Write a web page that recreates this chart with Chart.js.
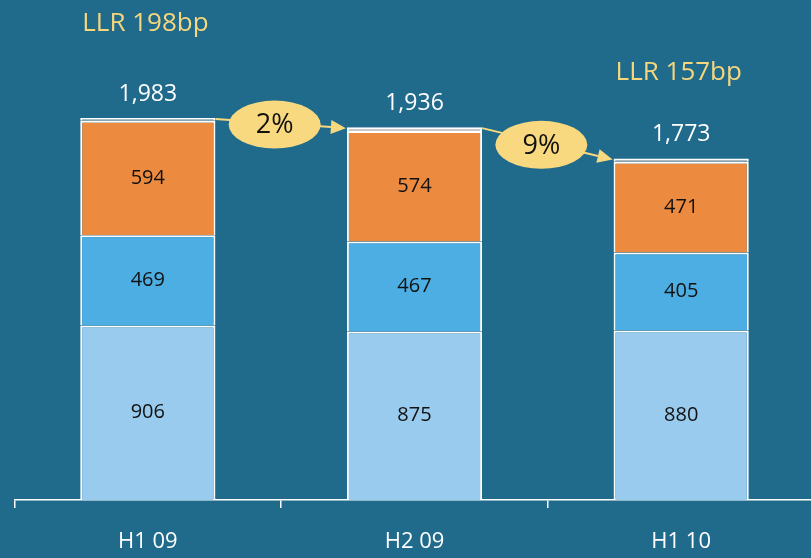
<!DOCTYPE html>
<html lang="en">
<head>
    <meta charset="UTF-8">
    <title>LLR chart</title>
    <script src="https://cdn.jsdelivr.net/npm/chart.js"></script>
    <style>
        html, body { margin: 0; padding: 0; overflow: hidden; background: #206a8c; }
        #wrap { width: 816px; height: 558px; }
    </style>
</head>
<body>
    <div id="wrap">
        <canvas id="graph"></canvas>
    </div>
</body>
<script>
    // data
    const categories = ['H1 09', 'H2 09', 'H1 10'];
    const baseValues = [906, 875, 880];
    const midValues = [469, 467, 405];
    const topValues = [594, 574, 471];
    const otherValues = [14, 20, 17];
    const totals = [1983, 1936, 1773];
    const changes = ['2%', '9%'];
    const llrNotes = [
        { text: 'LLR 198bp', index: 0, dy: -94 },
        { text: 'LLR 157bp', index: 2, dy: -86 }
    ];

    const fmt = n => n.toLocaleString('en-US');

    // numbers in the segments + totals above bars
    const labelsPlugin = {
        id: 'labels',
        afterDatasetsDraw(chart) {
            const ctx = chart.ctx;
            ctx.save();
            ctx.textAlign = 'center';
            ctx.textBaseline = 'middle';
            ctx.font = '20px "Open Sans"';
            ctx.fillStyle = '#111';
            for (let d = 0; d < 3; d++) {
                const meta = chart.getDatasetMeta(d);
                meta.data.forEach((bar, i) => {
                    const y = (bar.y + bar.base) / 2;
                    ctx.fillText(fmt(chart.data.datasets[d].data[i]), bar.x, y);
                });
            }
            const last = chart.getDatasetMeta(3);
            ctx.font = '23px "Open Sans"';
            ctx.fillStyle = '#fff';
            last.data.forEach((bar, i) => {
                ctx.fillText(fmt(totals[i]), bar.x, bar.y - 24);
            });

            // LLR notes
            ctx.textAlign = 'left';
            ctx.font = '26px "Open Sans"';
            ctx.fillStyle = '#f6d77c';
            llrNotes.forEach(n => {
                const bar = last.data[n.index];
                ctx.fillText(n.text, bar.x - bar.width / 2 + 2, bar.y + n.dy);
            });

            // arrows with % change
            for (let i = 0; i < changes.length; i++) {
                const a = last.data[i], b = last.data[i + 1];
                const x1 = a.x + a.width / 2, y1 = a.y + 1;
                const x2 = b.x - b.width / 2 - 1, y2 = b.y + 1;
                ctx.strokeStyle = '#f9d97f';
                ctx.fillStyle = '#f9d97f';
                ctx.lineWidth = 2;
                const ang = Math.atan2(y2 - y1, x2 - x1);
                const hl = 15, hw = 7;
                ctx.beginPath();
                ctx.moveTo(x1, y1);
                ctx.lineTo(x2 - hl * Math.cos(ang), y2 - hl * Math.sin(ang));
                ctx.stroke();
                ctx.beginPath();
                ctx.moveTo(x2, y2);
                ctx.lineTo(x2 - hl * Math.cos(ang) - hw * Math.sin(ang), y2 - hl * Math.sin(ang) + hw * Math.cos(ang));
                ctx.lineTo(x2 - hl * Math.cos(ang) + hw * Math.sin(ang), y2 - hl * Math.sin(ang) - hw * Math.cos(ang));
                ctx.closePath();
                ctx.fill();
                const cx = (x1 + x2) / 2 - 6, cy = (y1 + y2) / 2 + 1;
                ctx.beginPath();
                ctx.ellipse(cx, cy, 46, 24, 0, 0, Math.PI * 2);
                ctx.fill();
                ctx.fillStyle = '#111';
                ctx.textAlign = 'center';
                ctx.font = '27px "Open Sans"';
                ctx.fillText(changes[i], cx, cy + 1);
                ctx.textAlign = 'left';
                ctx.fillStyle = '#f6d77c';
            }
            ctx.restore();
        }
    };

    const ctx = document.getElementById('graph');
    new Chart(ctx, {
        type: 'bar',
        data: {
            labels: categories,
            datasets: [
                { data: baseValues, backgroundColor: '#99cbee' },
                { data: midValues, backgroundColor: '#4daee3' },
                { data: topValues, backgroundColor: '#ec8b40' },
                { data: otherValues, backgroundColor: '#c9c9c9' }
            ].map(ds => Object.assign(ds, {
                borderColor: '#ffffff',
                borderWidth: 2,
                borderSkipped: 'start',
                categoryPercentage: 1,
                barPercentage: 0.507
            }))
        },
        options: {
            responsive: true,
            maintainAspectRatio: false,
            animation: false,
            layout: { padding: { left: 14.5, right: 1.5, top: 18.5, bottom: 0 } },
            plugins: { legend: { display: false }, tooltip: { enabled: false } },
            scales: {
                x: {
                    stacked: true,
                    afterFit: scale => { scale.height = 58; },
                    border: { color: '#ffffff', width: 1.5 },
                    grid: { offset: true, drawOnChartArea: false, drawTicks: true, tickLength: 8, color: '#ffffff', lineWidth: 1.5 },
                    ticks: { color: '#ffffff', padding: 21, font: { family: 'Open Sans', size: 22 } }
                },
                y: {
                    stacked: true,
                    display: false,
                    min: 0,
                    max: 2500
                }
            }
        },
        plugins: [labelsPlugin]
    });
</script>
</html>
